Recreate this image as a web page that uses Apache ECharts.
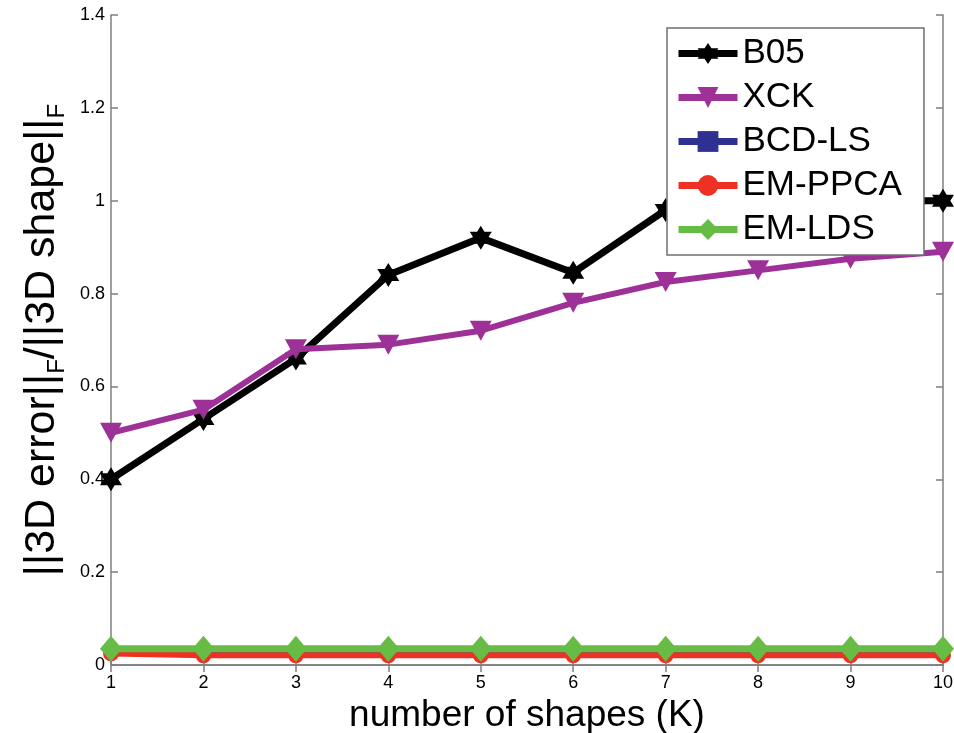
<!DOCTYPE html>
<html>
<head>
<meta charset="utf-8">
<script src="https://cdn.jsdelivr.net/npm/echarts@6/dist/echarts.min.js"></script>
<style>
html,body{margin:0;padding:0;background:#fff;}
#chart{width:954px;height:733px;}
</style>
</head>
<body>
<div id="chart"></div>
<script>
// ---- data ----
var shapesK = [1, 2, 3, 4, 5, 6, 7, 8, 9, 10];
var seriesNames = ['B05', 'XCK', 'BCD-LS', 'EM-PPCA', 'EM-LDS'];
var b05 = [0.40, 0.53, 0.66, 0.84, 0.92, 0.845, 0.98, 1.02, 1.00, 1.00];
var xck = [0.50, 0.55, 0.68, 0.69, 0.72, 0.78, 0.825, 0.85, 0.875, 0.89];
var bcdls = [0.028, 0.028, 0.028, 0.028, 0.028, 0.028, 0.028, 0.028, 0.028, 0.028];
var emppca = [0.025, 0.021, 0.021, 0.021, 0.021, 0.021, 0.021, 0.021, 0.021, 0.021];
var emlds = [0.035, 0.035, 0.035, 0.035, 0.035, 0.035, 0.035, 0.035, 0.035, 0.035];
var yTicks = [0, 0.2, 0.4, 0.6, 0.8, 1, 1.2, 1.4];

function pairs(vals) { return shapesK.map(function (k, i) { return [k, vals[i]]; }); }

var hexagram = 'path://M100,0 L128.9,50 L186.6,50 L157.7,100 L186.6,150 L128.9,150 L100,200 L71.1,150 L13.4,150 L42.3,100 L13.4,50 L71.1,50 Z';
var FONT = 'Liberation Sans, Arial, Helvetica, sans-serif';
var AX = '#7f7f7f';

function boxAxis(extra) {
  var base = {
    axisLine: { show: true, lineStyle: { color: AX, width: 1.5 } },
    axisTick: { show: true, inside: true, length: 7, lineStyle: { color: AX, width: 1.5 } },
    splitLine: { show: false }
  };
  for (var k in extra) base[k] = extra[k];
  return base;
}

var chart = echarts.init(document.getElementById('chart'));
chart.setOption({
  backgroundColor: '#fff',
  animation: false,
  grid: { left: 111, right: 11, top: 15, bottom: 68, containLabel: false, outerBoundsMode: 'none' },
  legend: {
    orient: 'vertical',
    left: 667, top: 28,
    padding: [8, 22, 8, 8],
    itemGap: 9,
    itemWidth: 59, itemHeight: 26,
    backgroundColor: '#fff',
    borderColor: '#6f6f6f', borderWidth: 1.5,
    lineStyle: { width: 7 },
    textStyle: { fontFamily: FONT, fontSize: 35, color: '#000', lineHeight: 35 },
    data: seriesNames,
    z: 20
  },
  xAxis: [
    boxAxis({
      type: 'value', min: 1, max: 10, interval: 1, position: 'bottom',
      name: 'number of shapes (K)', nameLocation: 'middle', nameGap: 27,
      nameTextStyle: { fontFamily: FONT, fontSize: 37, color: '#000' },
      axisLabel: { fontFamily: FONT, fontSize: 18, color: '#000', margin: 9 }
    }),
    boxAxis({ type: 'value', min: 1, max: 10, interval: 1, position: 'top', axisLabel: { show: false } })
  ],
  yAxis: [
    boxAxis({
      type: 'value', min: 0, max: 1.4, interval: 0.2, position: 'left',
      name: '{m|||3D error||}{s|F}{m|/||3D shape||}{s|F}',
      nameLocation: 'middle', nameRotate: 90, nameGap: 46,
      nameTextStyle: {
        fontFamily: FONT, fontSize: 43, color: '#000',
        rich: {
          m: { fontFamily: FONT, fontSize: 43, color: '#000', lineHeight: 43, verticalAlign: 'top' },
          s: { fontFamily: FONT, fontSize: 24, color: '#000', lineHeight: 24, verticalAlign: 'top', padding: [24, 0, 0, 0] }
        }
      },
      axisLabel: {
        fontFamily: FONT, fontSize: 18, color: '#000', margin: 6,
        formatter: function (v) {
          for (var i = 0; i < yTicks.length; i++) if (Math.abs(yTicks[i] - v) < 1e-9) return String(yTicks[i]);
          return '';
        }
      }
    }),
    boxAxis({ type: 'value', min: 0, max: 1.4, interval: 0.2, position: 'right', axisLabel: { show: false } })
  ],
  series: [
    { name: 'B05', type: 'line', data: pairs(b05), symbol: hexagram, symbolSize: [22, 24],
      itemStyle: { color: '#000' }, lineStyle: { color: '#000', width: 7 }, z: 2 },
    { name: 'XCK', type: 'line', data: pairs(xck), symbol: 'triangle', symbolRotate: 180, symbolSize: [22, 20],
      itemStyle: { color: '#9d3197' }, lineStyle: { color: '#9d3197', width: 6 }, z: 3 },
    { name: 'BCD-LS', type: 'line', data: pairs(bcdls), symbol: 'rect', symbolSize: 12,
      itemStyle: { color: '#2e3192' }, lineStyle: { color: '#2e3192', width: 6 }, z: 4 },
    { name: 'EM-PPCA', type: 'line', data: pairs(emppca), symbol: 'circle', symbolSize: 16,
      itemStyle: { color: '#ee3124' }, lineStyle: { color: '#ee3124', width: 6 }, z: 5 },
    { name: 'EM-LDS', type: 'line', data: pairs(emlds), symbol: 'diamond', symbolSize: [22, 26],
      itemStyle: { color: '#67bc45' }, lineStyle: { color: '#67bc45', width: 7 }, z: 6 }
  ]
});
</script>
</body>
</html>
